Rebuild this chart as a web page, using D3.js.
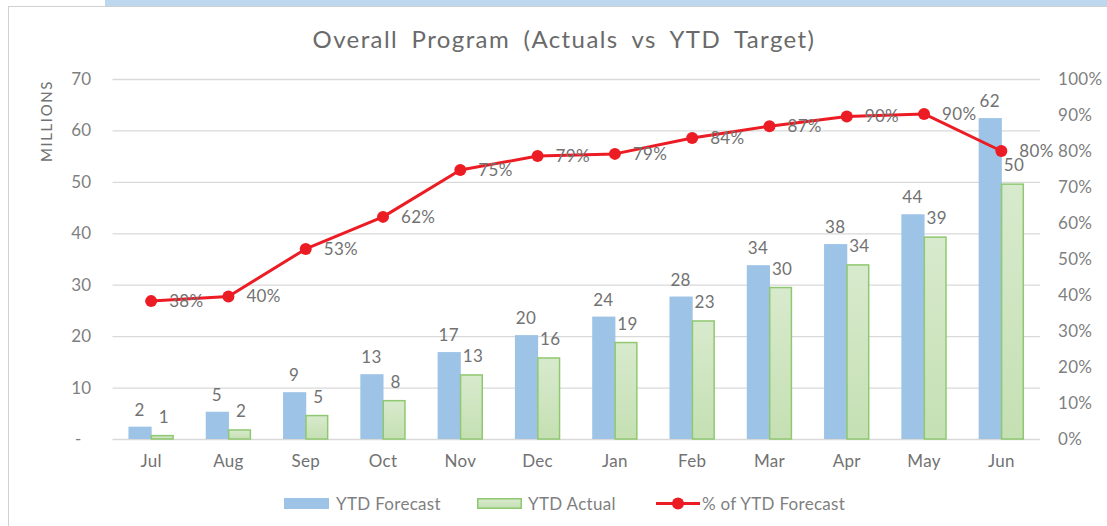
<!DOCTYPE html>
<html>
<head>
<meta charset="utf-8">
<script src="https://cdn.jsdelivr.net/npm/d3@7"></script>
<style>
  html, body { margin: 0; padding: 0; background: #fff; }
  svg { display: block; font-family: Lato, "Open Sans", sans-serif; }
  .lbl { font-size: 17px; letter-spacing: 0.3px; }
</style>
</head>
<body>
<svg id="chart" width="1107" height="526"></svg>
<script>
// Monthly program figures (millions) and share of YTD forecast achieved
const months   = ["Jul","Aug","Sep","Oct","Nov","Dec","Jan","Feb","Mar","Apr","May","Jun"];
const forecast = [2.4, 5.3, 9.1, 12.6, 16.9, 20.2, 23.8, 27.7, 33.8, 37.9, 43.7, 62.4];
const actual   = [0.8, 1.9, 4.7, 7.6, 12.6, 15.9, 18.9, 23.1, 29.6, 34.0, 39.4, 49.7];
const pctOfForecast = [0.383, 0.396, 0.528, 0.617, 0.747, 0.786, 0.792, 0.836, 0.869, 0.896, 0.903, 0.80];
const leftTicks  = [0, 10, 20, 30, 40, 50, 60, 70];
const rightTicks = [0, 0.1, 0.2, 0.3, 0.4, 0.5, 0.6, 0.7, 0.8, 0.9, 1.0];
const legendItems = ["YTD Forecast", "YTD Actual", "% of YTD Forecast"];

const svg = d3.select("#chart");
const W = 1107, H = 526;
const plot = { left: 112.5, right: 1040, top: 79, bottom: 439 };

const colors = {
  forecast: "#9dc3e6",
  actualStroke: "#8fc870",
  line: "#ec1c24",
  grid: "#d9d9d9",
  title: "#6a6a6a",
  text: "#727272",
  tick: "#7f7f7f"
};

// Frame: light blue header band and thin grey border
svg.append("rect").attr("x", 105).attr("y", 0).attr("width", W - 105).attr("height", 6).attr("fill", "#bdd7ee");
svg.append("line").attr("x1", 8).attr("x2", W).attr("y1", 6.5).attr("y2", 6.5).attr("stroke", "#d0d0d0");
svg.append("line").attr("x1", 8.5).attr("x2", 8.5).attr("y1", 6).attr("y2", H).attr("stroke", "#d0d0d0");

// Gradient for the actual bars
const defs = svg.append("defs");
const grad = defs.append("linearGradient").attr("id", "actualFill").attr("x1", 0).attr("y1", 0).attr("x2", 0).attr("y2", 1);
grad.append("stop").attr("offset", "0%").attr("stop-color", "#d8eacd");
grad.append("stop").attr("offset", "100%").attr("stop-color", "#c5e0b3");

// Scales
const x = d3.scaleBand().domain(months).range([plot.left, plot.right]).paddingInner(0.4).paddingOuter(0.2);
const y = d3.scaleLinear().domain([0, 70]).range([plot.bottom, plot.top]);
const yR = d3.scaleLinear().domain([0, 1]).range([plot.bottom, plot.top]);
const cx = m => x(m) + x.bandwidth() / 2;
const barW = x.bandwidth() / 2;

// Title
svg.append("text")
  .attr("x", 564).attr("y", 48)
  .attr("text-anchor", "middle")
  .attr("fill", colors.title)
  .style("font-size", "24px")
  .style("letter-spacing", "1.4px")
  .style("word-spacing", "6px")
  .text("Overall Program (Actuals vs YTD Target)");

// Left axis with gridlines
const leftAxis = d3.axisLeft(y).tickValues(leftTicks)
  .tickSize(-(plot.right - plot.left)).tickPadding(21)
  .tickFormat(d => d === 0 ? "-" : d3.format("d")(d));
const gL = svg.append("g").attr("transform", `translate(${plot.left},0)`).call(leftAxis);
gL.select(".domain").remove();
gL.selectAll(".tick line").attr("stroke", colors.grid).attr("stroke-width", 1.3);
gL.selectAll(".tick text").attr("class", "lbl").attr("fill", colors.tick).style("font-family", "Lato, sans-serif");
gL.selectAll(".tick").filter(d => d === 0).select("text").attr("dx", -10);

// Right axis (percentage)
const rightAxis = d3.axisRight(yR).tickValues(rightTicks).tickSize(0).tickPadding(18).tickFormat(d3.format(".0%"));
const gR = svg.append("g").attr("transform", `translate(${plot.right},0)`).call(rightAxis);
gR.select(".domain").remove();
gR.selectAll(".tick text").attr("class", "lbl").attr("fill", colors.tick).style("font-family", "Lato, sans-serif");

// Category axis
const bottomAxis = d3.axisBottom(x).tickSize(0).tickPadding(16);
const gB = svg.append("g").attr("transform", `translate(0,${plot.bottom})`).call(bottomAxis);
gB.select(".domain").remove();
gB.selectAll(".tick text").attr("class", "lbl").attr("fill", colors.text).style("font-family", "Lato, sans-serif");

// Y-axis title
svg.append("text")
  .attr("transform", "translate(52,121) rotate(-90)")
  .attr("text-anchor", "middle")
  .attr("fill", colors.text)
  .style("font-size", "15px")
  .style("letter-spacing", "1.6px")
  .text("MILLIONS");

// Forecast bars
svg.append("g").selectAll("rect").data(months).join("rect")
  .attr("x", (m) => cx(m) - barW + 0.5)
  .attr("width", barW)
  .attr("y", (m, i) => y(forecast[i]))
  .attr("height", (m, i) => y(0) - y(forecast[i]))
  .attr("fill", colors.forecast);

// Actual bars
svg.append("g").selectAll("rect").data(months).join("rect")
  .attr("x", (m) => cx(m) - 0.5 + 0.75)
  .attr("width", barW - 1.5)
  .attr("y", (m, i) => y(actual[i]) + 0.75)
  .attr("height", (m, i) => y(0) - y(actual[i]) - 0.75)
  .attr("fill", "url(#actualFill)")
  .attr("stroke", colors.actualStroke)
  .attr("stroke-width", 1.5);

// Bar value labels
const fmt0 = d3.format(".0f");
svg.append("g").selectAll("text").data(months).join("text")
  .attr("class", "lbl")
  .attr("x", m => cx(m) - barW / 2)
  .attr("y", (m, i) => y(forecast[i]) - 11)
  .attr("text-anchor", "middle")
  .attr("fill", colors.text)
  .text((m, i) => fmt0(forecast[i]));
svg.append("g").selectAll("text").data(months).join("text")
  .attr("class", "lbl")
  .attr("x", m => cx(m) + barW / 2 + 1)
  .attr("y", (m, i) => y(actual[i]) - 12)
  .attr("text-anchor", "middle")
  .attr("fill", colors.text)
  .text((m, i) => fmt0(actual[i]));

// Percentage line with markers
const line = d3.line().x((d, i) => cx(months[i])).y(d => yR(d));
svg.append("path").datum(pctOfForecast)
  .attr("d", line)
  .attr("fill", "none")
  .attr("stroke", colors.line)
  .attr("stroke-width", 3)
  .attr("stroke-linejoin", "round");
svg.append("g").selectAll("circle").data(pctOfForecast).join("circle")
  .attr("cx", (d, i) => cx(months[i]))
  .attr("cy", d => yR(d))
  .attr("r", 6)
  .attr("fill", colors.line);
svg.append("g").selectAll("text").data(pctOfForecast).join("text")
  .attr("class", "lbl")
  .attr("x", (d, i) => cx(months[i]) + 18)
  .attr("y", d => yR(d) + 6)
  .attr("fill", colors.text)
  .text(d => d3.format(".0%")(d));

// Legend
const lg = svg.append("g").attr("class", "legend");
const ly = 503.5;
lg.append("rect").attr("x", 284).attr("y", ly - 5.5).attr("width", 45).attr("height", 11).attr("fill", colors.forecast);
lg.append("text").attr("class", "lbl").attr("x", 336).attr("y", ly + 6).attr("fill", colors.tick).text(legendItems[0]);
lg.append("rect").attr("x", 477.75).attr("y", ly - 4.75).attr("width", 43.5).attr("height", 9.5)
  .attr("fill", "url(#actualFill)").attr("stroke", colors.actualStroke).attr("stroke-width", 1.5);
lg.append("text").attr("class", "lbl").attr("x", 528).attr("y", ly + 6).attr("fill", colors.tick).text(legendItems[1]);
lg.append("line").attr("x1", 656).attr("x2", 700).attr("y1", ly).attr("y2", ly).attr("stroke", colors.line).attr("stroke-width", 3);
lg.append("circle").attr("cx", 678).attr("cy", ly).attr("r", 6).attr("fill", colors.line);
lg.append("text").attr("class", "lbl").attr("x", 702).attr("y", ly + 6).attr("fill", colors.tick).text(legendItems[2]);
</script>
</body>
</html>
